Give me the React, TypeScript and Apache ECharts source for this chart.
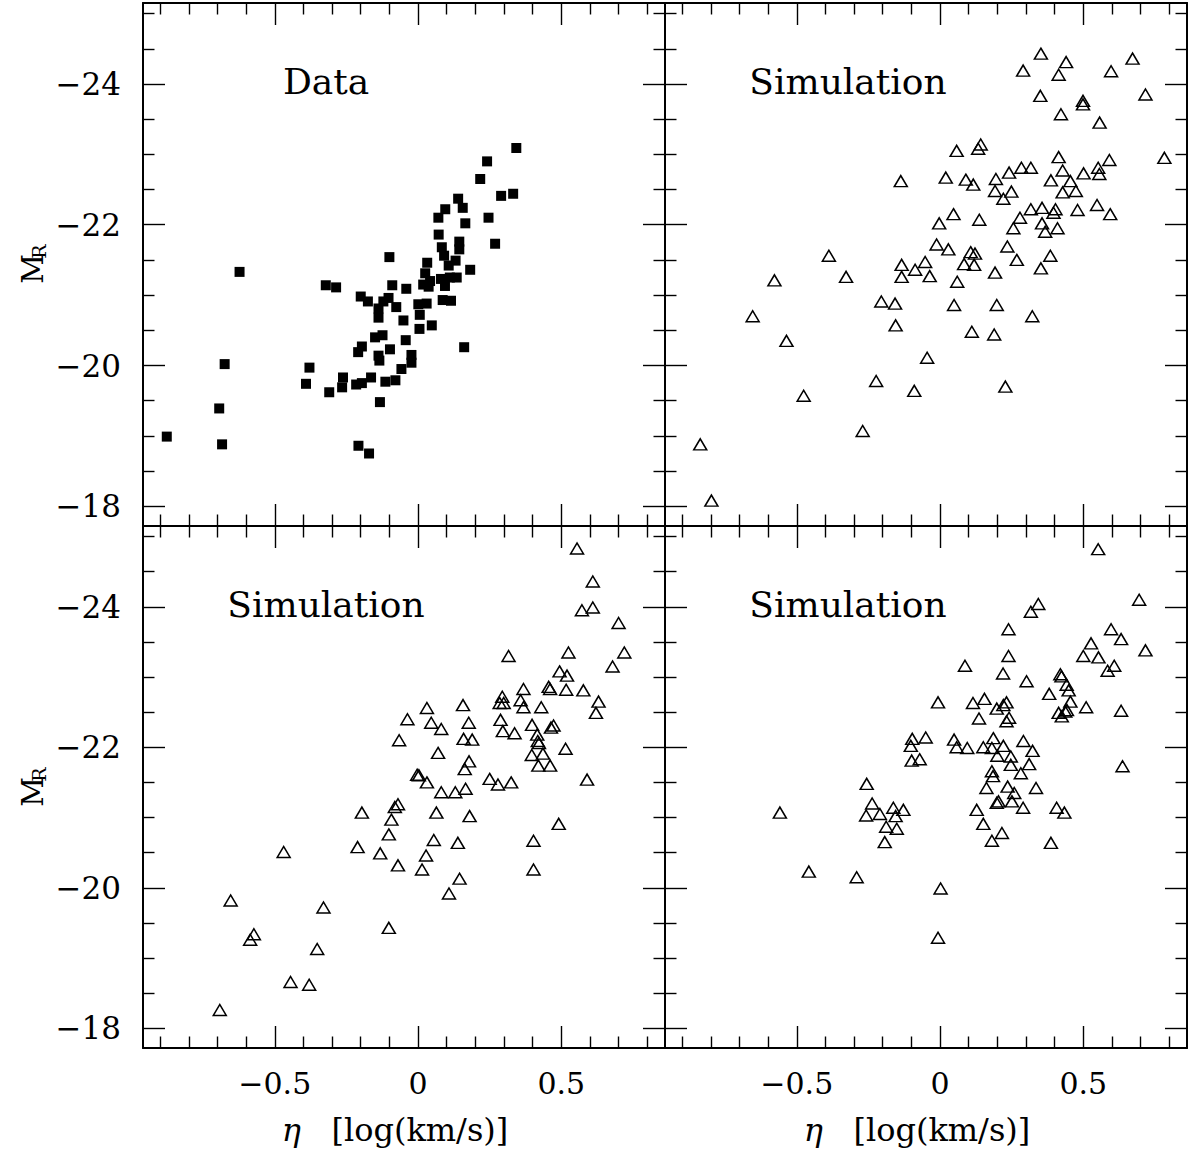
import React, { useEffect, useRef } from "react";
import * as echarts from "echarts";

// ---------- data (eta [log(km/s)], M_R) ----------
const dataEta = [0.343, 0.241, 0.217, 0.290, 0.332, 0.140, 0.095, 0.156, 0.071, 0.246, 0.165, 0.072, 0.144, 0.269, 0.083, 0.144, -0.100, 0.091, 0.131, 0.032, 0.107, 0.182, -0.623, 0.025, 0.135, 0.111, 0.042, 0.080, 0.018, 0.094, 0.037, -0.322, -0.286, -0.090, -0.041, -0.200, -0.103, -0.175, -0.121, 0.086, 0.115, 0.001, 0.030, -0.076, -0.138, -0.138, 0.006, -0.051, 0.048, 0.005, -0.124, -0.150, -0.043, -0.196, -0.209, -0.098, 0.161, -0.138, -0.135, -0.023, -0.023, -0.675, -0.379, -0.058, -0.262, -0.164, -0.079, -0.114, -0.196, -0.216, -0.391, -0.265, -0.310, -0.133, -0.694, -0.877, -0.684, -0.208, -0.171];
const dataMR = [-23.09, -22.90, -22.65, -22.41, -22.44, -22.37, -22.22, -22.24, -22.10, -22.10, -22.02, -21.86, -21.76, -21.73, -21.68, -21.65, -21.54, -21.56, -21.49, -21.46, -21.42, -21.36, -21.33, -21.31, -21.25, -21.25, -21.20, -21.23, -21.15, -21.13, -21.12, -21.14, -21.11, -21.14, -21.09, -20.98, -20.96, -20.91, -20.91, -20.93, -20.92, -20.87, -20.88, -20.83, -20.81, -20.68, -20.72, -20.64, -20.57, -20.52, -20.43, -20.40, -20.36, -20.27, -20.19, -20.23, -20.26, -20.14, -20.07, -20.15, -20.04, -20.02, -19.97, -19.95, -19.83, -19.83, -19.79, -19.77, -19.75, -19.73, -19.74, -19.69, -19.62, -19.48, -19.39, -18.99, -18.88, -18.86, -18.75];

const sim1Eta = [0.352, 0.440, 0.290, 0.414, 0.672, 0.597, 0.350, 0.499, 0.499, 0.717, 0.422, 0.557, 0.058, 0.133, 0.142, 0.783, 0.414, 0.591, -0.137, 0.020, 0.090, 0.116, 0.195, 0.241, 0.284, 0.317, 0.428, 0.387, 0.501, 0.552, 0.556, 0.455, 0.192, 0.249, 0.221, 0.428, 0.474, 0.317, 0.356, 0.396, 0.403, 0.480, 0.548, 0.594, 0.047, -0.003, 0.137, 0.279, 0.256, 0.356, 0.367, 0.410, -0.012, 0.029, 0.235, 0.107, 0.122, 0.084, 0.119, 0.268, 0.385, 0.352, -0.388, -0.134, -0.052, -0.087, 0.192, -0.578, -0.328, -0.134, -0.036, 0.060, -0.205, -0.157, 0.049, 0.198, -0.654, 0.322, -0.155, 0.111, 0.189, -0.536, -0.045, -0.223, -0.090, 0.228, -0.476, -0.270, -0.837, -0.798];
const sim1MR = [-24.43, -24.31, -24.19, -24.13, -24.36, -24.18, -23.83, -23.76, -23.71, -23.85, -23.57, -23.45, -23.05, -23.08, -23.14, -22.95, -22.96, -22.92, -22.62, -22.67, -22.64, -22.57, -22.65, -22.74, -22.81, -22.81, -22.77, -22.63, -22.73, -22.81, -22.72, -22.62, -22.48, -22.47, -22.37, -22.46, -22.48, -22.22, -22.24, -22.17, -22.22, -22.21, -22.28, -22.15, -22.15, -22.02, -22.07, -22.10, -21.95, -22.02, -21.90, -21.95, -21.72, -21.65, -21.69, -21.61, -21.59, -21.44, -21.43, -21.50, -21.56, -21.38, -21.56, -21.43, -21.47, -21.36, -21.32, -21.21, -21.26, -21.26, -21.27, -21.19, -20.91, -20.88, -20.86, -20.86, -20.70, -20.70, -20.57, -20.48, -20.44, -20.35, -20.11, -19.78, -19.64, -19.70, -19.57, -19.07, -18.88, -18.08];

const sim2Eta = [0.555, 0.610, 0.572, 0.610, 0.700, 0.720, 0.525, 0.679, 0.316, 0.494, 0.520, 0.368, 0.456, 0.461, 0.517, 0.577, 0.294, 0.285, 0.299, 0.358, 0.368, 0.430, 0.630, 0.621, 0.031, 0.157, -0.037, 0.046, 0.081, 0.177, 0.288, 0.296, 0.337, 0.398, 0.416, 0.418, 0.422, 0.464, 0.473, -0.066, 0.159, 0.189, 0.515, 0.070, 0.397, 0.436, 0.178, 0.163, 0.420, 0.461, -0.003, 0.003, 0.250, 0.590, 0.031, 0.279, 0.325, 0.081, 0.130, 0.166, -0.070, -0.081, -0.196, -0.093, 0.064, 0.180, 0.491, -0.102, 0.055, 0.139, 0.403, -0.211, -0.132, -0.469, 0.028, -0.070, 0.014, 0.403, 0.145, 0.108, -0.654, -0.330, -0.102, -0.573, -0.586, -0.352, -0.445, -0.380, -0.692];
const sim2MR = [-24.83, -24.36, -23.95, -23.99, -23.77, -23.35, -23.35, -23.15, -23.30, -23.08, -23.02, -22.83, -22.86, -22.83, -22.82, -22.81, -22.72, -22.63, -22.63, -22.67, -22.57, -22.57, -22.65, -22.49, -22.56, -22.60, -22.40, -22.35, -22.26, -22.35, -22.39, -22.23, -22.20, -22.32, -22.18, -22.09, -22.06, -22.28, -22.31, -22.10, -22.12, -22.11, -21.98, -21.92, -21.89, -21.91, -21.80, -21.69, -21.74, -21.74, -21.61, -21.60, -21.55, -21.54, -21.50, -21.47, -21.50, -21.36, -21.36, -21.41, -21.19, -21.15, -21.07, -20.97, -21.07, -21.02, -20.91, -20.76, -20.68, -20.64, -20.67, -20.58, -20.49, -20.51, -20.46, -20.32, -20.26, -20.26, -20.13, -19.92, -19.82, -19.72, -19.43, -19.34, -19.26, -19.13, -18.66, -18.62, -18.26];

const sim3Eta = [0.552, 0.695, 0.343, 0.317, 0.239, 0.597, 0.632, 0.527, 0.717, 0.239, 0.500, 0.553, 0.608, 0.585, 0.087, 0.220, 0.302, 0.420, 0.424, 0.442, 0.449, 0.381, 0.455, 0.510, 0.632, 0.443, 0.414, 0.425, 0.437, -0.007, 0.115, 0.155, 0.198, 0.221, 0.232, 0.136, 0.241, 0.232, -0.097, -0.050, -0.102, 0.049, 0.058, 0.095, 0.151, 0.186, 0.181, 0.221, 0.291, 0.200, 0.247, 0.323, -0.099, -0.071, 0.247, 0.311, 0.637, 0.181, 0.282, 0.185, -0.256, 0.162, 0.236, 0.259, 0.335, -0.559, -0.237, -0.258, -0.210, -0.163, -0.128, -0.155, -0.188, -0.151, -0.193, 0.128, 0.198, 0.204, 0.251, 0.290, 0.407, 0.434, 0.151, 0.216, 0.181, 0.387, -0.458, -0.291, 0.002, -0.007];
const sim3MR = [-24.82, -24.10, -24.04, -23.93, -23.68, -23.68, -23.54, -23.48, -23.38, -23.30, -23.30, -23.28, -23.16, -23.09, -23.16, -23.05, -22.94, -23.04, -23.01, -22.89, -22.81, -22.76, -22.65, -22.57, -22.52, -22.53, -22.49, -22.44, -22.51, -22.64, -22.63, -22.69, -22.55, -22.60, -22.64, -22.41, -22.42, -22.37, -22.12, -22.14, -22.02, -22.11, -22.00, -21.99, -22.00, -22.13, -21.99, -22.02, -22.09, -21.88, -21.87, -21.95, -21.81, -21.83, -21.75, -21.76, -21.73, -21.66, -21.63, -21.59, -21.48, -21.42, -21.44, -21.35, -21.42, -21.07, -21.20, -21.03, -21.05, -21.14, -21.11, -21.02, -20.87, -20.84, -20.65, -21.11, -21.21, -21.23, -21.23, -21.14, -21.14, -21.07, -20.91, -20.78, -20.67, -20.64, -20.23, -20.15, -19.99, -19.29];

// ---------- ticks / labels ----------
const xMajorTicks = [-0.5, 0, 0.5];
const xMinorTicks = [-0.9, -0.8, -0.7, -0.6, -0.4, -0.3, -0.2, -0.1, 0.1, 0.2, 0.3, 0.4, 0.6, 0.7, 0.8];
const yMajorTicks = [-24, -22, -20, -18];
const yMinorTicks = [-25, -24.5, -23.5, -23, -22.5, -21.5, -21, -20.5, -19.5, -19, -18.5];
const panelTitles = ["Data", "Simulation", "Simulation", "Simulation"];
const xAxisSymbol = "η";
const xAxisUnit = "[log(km/s)]";
const yAxisMain = "M";
const yAxisSub = "R";

const X_MIN = -0.96;
const X_MAX = 0.862;
const Y_MIN = -25.15;
const Y_MAX = -17.72;

const FONT = '"DejaVu Serif", "Liberation Serif", serif';

const fmt = (v: number) => String(v).replace("-", "\u2212");

// grid boxes
const grids = [
  { left: 143, top: 3, width: 522, height: 523 },
  { left: 665, top: 3, width: 522, height: 523 },
  { left: 143, top: 526, width: 522, height: 522 },
  { left: 665, top: 526, width: 522, height: 522 },
];

function xAxes(g: number, showLabels: boolean) {
  const base = {
    type: "value",
    gridIndex: g,
    min: X_MIN,
    max: X_MAX,
    splitLine: { show: false },
  };
  const mk = (pos: string, major: boolean, labels: boolean) => ({
    ...base,
    position: pos,
    axisLine: { show: major, onZero: false, lineStyle: { color: "#000", width: 2 } },
    axisTick: {
      show: true,
      inside: true,
      length: major ? 22 : 11.5,
      customValues: major ? xMajorTicks : xMinorTicks,
      lineStyle: { color: "#000", width: 1.4 },
    },
    axisLabel: {
      show: labels,
      customValues: xMajorTicks,
      margin: 20,
      fontFamily: FONT,
      fontSize: 30,
      color: "#000",
      formatter: fmt,
    },
    name: labels ? `{i|${xAxisSymbol}}{n|   ${xAxisUnit}}` : "",
    nameLocation: "middle",
    nameGap: 66,
    nameTextStyle: {
      fontFamily: FONT,
      fontSize: 31,
      color: "#000",
      padding: [0, 18, 0, 0],
      rich: {
        i: { fontFamily: FONT, fontSize: 32, fontStyle: "italic", color: "#000" },
        n: { fontFamily: FONT, fontSize: 32, color: "#000" },
      },
    },
  });
  return [mk("bottom", true, showLabels), mk("bottom", false, false), mk("top", true, false), mk("top", false, false)];
}

function yAxes(g: number, showLabels: boolean) {
  const base = {
    type: "value",
    gridIndex: g,
    min: Y_MIN,
    max: Y_MAX,
    inverse: true,
    splitLine: { show: false },
  };
  const mk = (pos: string, major: boolean, labels: boolean) => ({
    ...base,
    position: pos,
    axisLine: { show: major, onZero: false, lineStyle: { color: "#000", width: 2 } },
    axisTick: {
      show: true,
      inside: true,
      length: major ? 22 : 11.5,
      customValues: major ? yMajorTicks : yMinorTicks,
      lineStyle: { color: "#000", width: 1.4 },
    },
    axisLabel: {
      show: labels,
      customValues: yMajorTicks,
      margin: 22,
      fontFamily: FONT,
      fontSize: 31,
      color: "#000",
      formatter: fmt,
    },
  });
  return [mk("left", true, showLabels), mk("left", false, false), mk("right", true, false), mk("right", false, false)];
}

const zip = (xs: number[], ys: number[]) => xs.map((x, i) => [x, ys[i]]);

function App() {
  const ref = useRef<HTMLDivElement>(null);
  useEffect(() => {
    if (!ref.current) return;
    const chart = echarts.init(ref.current, null, { renderer: "svg" });

    const triStyle = { color: "rgba(0,0,0,0)", borderColor: "#000", borderWidth: 1.5, opacity: 1 };
    const panels = [
      { data: zip(dataEta, dataMR), symbol: "rect", size: 10, style: { color: "#000", opacity: 1 } },
      { data: zip(sim1Eta, sim1MR), symbol: "triangle", size: [13, 11], style: triStyle },
      { data: zip(sim2Eta, sim2MR), symbol: "triangle", size: [13, 11], style: triStyle },
      { data: zip(sim3Eta, sim3MR), symbol: "triangle", size: [13, 11], style: triStyle },
    ];

    const titleGraphics = panelTitles.map((t, i) => ({
      type: "text",
      x: grids[i].left + 183,
      y: grids[i].top + 78,
      style: {
        text: t,
        font: `36px ${FONT}`,
        fill: "#000",
        align: "center",
        verticalAlign: "middle",
        textAlign: "center",
        textVerticalAlign: "middle",
      },
    }));

    const yNameGraphics = [264, 787].map((cy) => ({
      type: "group",
      x: 34,
      y: cy,
      rotation: Math.PI / 2,
      children: [
        {
          type: "text",
          x: -5,
          y: -1,
          style: {
            text: yAxisMain,
            font: `29px ${FONT}`,
            fill: "#000",
            align: "center",
            verticalAlign: "middle",
            textAlign: "center",
            textVerticalAlign: "middle",
          },
        },
        {
          type: "text",
          x: 12.5,
          y: 5,
          style: {
            text: yAxisSub,
            font: `19px ${FONT}`,
            fill: "#000",
            align: "center",
            verticalAlign: "middle",
            textAlign: "center",
            textVerticalAlign: "middle",
          },
        },
      ],
    }));

    const option: any = {
      animation: false,
      backgroundColor: "#fff",
      grid: grids.map((g) => ({ ...g, containLabel: false })),
      xAxis: [
        ...xAxes(0, false),
        ...xAxes(1, false),
        ...xAxes(2, true),
        ...xAxes(3, true),
      ],
      yAxis: [
        ...yAxes(0, true),
        ...yAxes(1, false),
        ...yAxes(2, true),
        ...yAxes(3, false),
      ],
      series: panels.map((p, i) => ({
        type: "scatter",
        xAxisIndex: i * 4,
        yAxisIndex: i * 4,
        data: p.data,
        symbol: p.symbol,
        symbolSize: p.size,
        itemStyle: p.style,
        emphasis: { disabled: true },
        silent: true,
      })),
      graphic: [...titleGraphics, ...yNameGraphics],
    };

    chart.setOption(option);
    return () => chart.dispose();
  }, []);

  return (
    <div
      ref={ref}
      style={{ position: "absolute", left: 0, top: 0, width: 1189, height: 1153, background: "#fff" }}
    />
  );
}

export default App;
